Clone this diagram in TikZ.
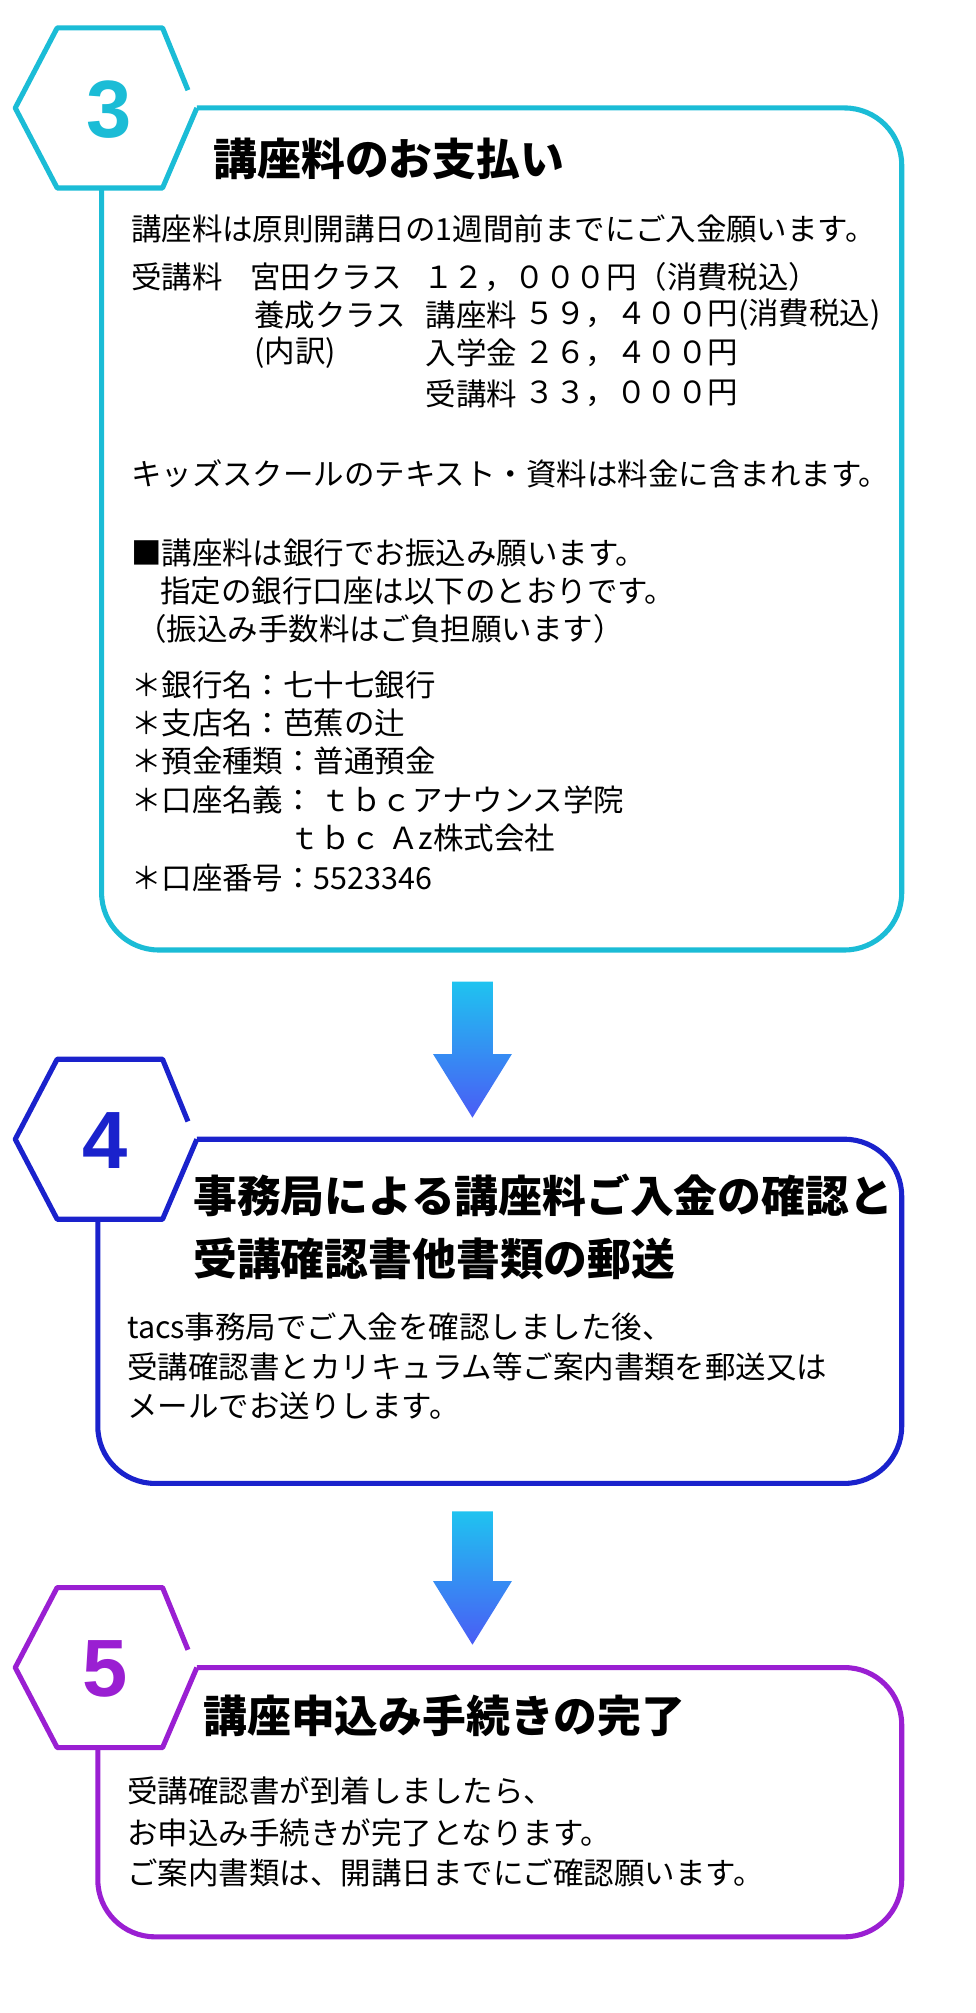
\documentclass[tikz,border=0pt]{standalone}
\usepackage{fontspec}
\setmainfont{Noto Sans CJK JP}
\newfontfamily\numfont{Liberation Sans}
\definecolor{cA}{HTML}{1BBCD6}
\definecolor{cB}{HTML}{1A22CC}
\definecolor{cC}{HTML}{9A1FD2}
\definecolor{arT}{HTML}{1FC3F0}
\definecolor{arB}{HTML}{4A5CF5}
\begin{document}
\begin{tikzpicture}[x=1pt,y=-1pt,
  frame/.style={line width=4pt,line join=round},
  body/.style={anchor=west,inner sep=0pt,font=\fontsize{24}{28}\selectfont},
  ttl/.style={anchor=west,inner sep=0pt,font=\fontsize{34.5}{40}\selectfont\bfseries},
  num/.style={inner sep=0pt,font=\fontsize{64}{70}\selectfont\numfont\bfseries},
  arrowshape/.style={top color=arT,bottom color=arB,draw=none}]
\useasboundingbox (0,0) rectangle (768,1585);
\newcommand\stepframe[3]{% top y, bottom y, left x
  \draw[frame] (148,#1-14) -- (128,#1-63) -- (45,#1-63) -- (12,#1) -- (45,#1+63) -- (128,#1+63) -- (155,#1);
  \draw[frame,rounded corners=45pt] (155,#1) -- (710,#1) -- (710,#2) -- (#3,#2) -- (#3,#1+63);
}
% Step 3
\begin{scope}[cA]\stepframe{85}{748}{80}\end{scope}
\node[num,cA] (n3) at (86,86) {3};
\node[ttl] (t3) at (168,125) {講座料のお支払い};
\node[body] (a1) at (103,180) {講座料は原則開講日の1週間前までにご入金願います。};
\node[body] (a2) at (103,218) {受講料};
\node[body] (a3) at (197,218) {宮田クラス};
\node[body] (a4) at (333,218) {１２，０００円（消費税込）};
\node[body] (a5) at (200,248) {養成クラス};
\node[body] (a6) at (335,248) {講座料};
\node[body] (a7) at (413,248) {５９，４００円(消費税込)};
\node[body] (a8) at (200,278) {(内訳)};
\node[body] (a9) at (335,278) {入学金};
\node[body] (a10) at (413,278) {２６，４００円};
\node[body] (a11) at (335,310) {受講料};
\node[body] (a12) at (413,310) {３３，０００円};
\node[body] (a13) at (103,373) {キッズスクールのテキスト・資料は料金に含まれます。};
\node[body] (a14) at (103,435) {■講座料は銀行でお振込み願います。};
\node[body] (a15) at (126,465) {指定の銀行口座は以下のとおりです。};
\node[body] (a16) at (107,495) {（振込み手数料はご負担願います）};
\node[body] (a17) at (103,539) {＊銀行名：七十七銀行};
\node[body] (a18) at (103,569) {＊支店名：芭蕉の辻};
\node[body] (a19) at (103,599) {＊預金種類：普通預金};
\node[body] (a20) at (103,630) {＊口座名義： ｔｂｃアナウンス学院};
\node[body] (a21) at (228,660) {ｔｂｃ Ａz株式会社};
\node[body] (a22) at (103,691) {＊口座番号：5523346};
% arrow 1
\shade[arrowshape] (356,773) -- (388,773) -- (388,830) -- (403,830) -- (372,880) -- (341,830) -- (356,830) -- cycle;
% Step 4
\begin{scope}[cB]\stepframe{897}{1168}{77}\end{scope}
\node[num,cB] (n4) at (83,898) {4};
\node[ttl] (t4a) at (152,941) {事務局による講座料ご入金の確認と};
\node[ttl] (t4b) at (152,991) {受講確認書他書類の郵送};
\node[body] (b1) at (100,1045) {tacs事務局でご入金を確認しました後、};
\node[body] (b2) at (100,1076) {受講確認書とカリキュラム等ご案内書類を郵送又は};
\node[body] (b3) at (100,1107) {メールでお送りします。};
% arrow 2
\shade[arrowshape] (356,1190) -- (388,1190) -- (388,1245) -- (403,1245) -- (372,1295) -- (341,1245) -- (356,1245) -- cycle;
% Step 5
\begin{scope}[cC]\stepframe{1313}{1525}{77}\end{scope}
\node[num,cC] (n5) at (83,1314) {5};
\node[ttl] (t5) at (160,1351) {講座申込み手続きの完了};
\node[body] (c1) at (100,1410) {受講確認書が到着しましたら、};
\node[body] (c2) at (100,1443) {お申込み手続きが完了となります。};
\node[body] (c3) at (100,1475) {ご案内書類は、開講日までにご確認願います。};
\end{tikzpicture}
\end{document}
